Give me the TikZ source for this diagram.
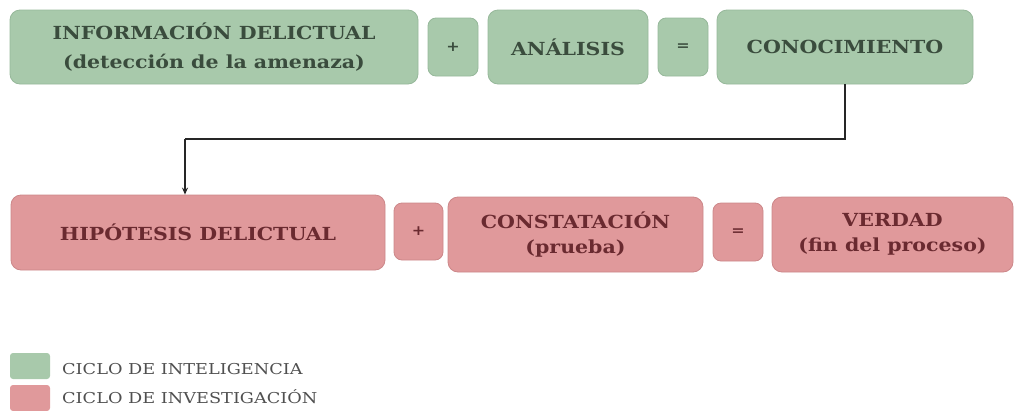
\documentclass[tikz,border=0pt]{standalone}
\usepackage{fontspec}
\setmainfont[FakeStretch=1.14]{DejaVu Serif}
\newfontfamily\legfont[FakeStretch=1.18]{DejaVu Serif}
\usetikzlibrary{arrows.meta}
\definecolor{gfill}{HTML}{A8C9AB}
\definecolor{gdraw}{HTML}{96B89A}
\definecolor{gtext}{HTML}{3A4C3D}
\definecolor{rfill}{HTML}{E0999B}
\definecolor{rdraw}{HTML}{CC8789}
\definecolor{rtext}{HTML}{6A2A30}
\definecolor{ltext}{HTML}{505050}
\begin{document}
\begin{tikzpicture}[x=1pt,y=-1pt,
  gbox/.style={draw=gdraw,line width=0.8pt,fill=gfill,rounded corners=10pt,text=gtext,font=\fontsize{18}{29}\selectfont\bfseries,align=center,inner sep=0pt},
  rbox/.style={draw=rdraw,line width=0.8pt,fill=rfill,rounded corners=10pt,text=rtext,font=\fontsize{18}{25}\selectfont\bfseries,align=center,inner sep=0pt},
  gop/.style={gbox,rounded corners=8pt,font=\fontsize{14}{14}\selectfont\bfseries},
  rop/.style={rbox,rounded corners=8pt,font=\fontsize{14}{14}\selectfont\bfseries},
  legsq/.style={fill=#1,draw=none,rounded corners=3pt},
  legtext/.style={anchor=west,text=ltext,font=\legfont\fontsize{15}{15}\selectfont,inner sep=0pt},
  arr/.style={draw=black!85,line width=2.2pt,-{Stealth[length=7pt,width=6pt]}}]
\useasboundingbox (0,0) rectangle (1017,410);
% top row
\node[gbox,minimum width=408pt,minimum height=74pt] (info) at (214,47) {INFORMACIÓN DELICTUAL\\(detección de la amenaza)};
\node[gop,minimum width=50pt,minimum height=58pt] (plus1) at (453,47) {+};
\node[gbox,minimum width=160pt,minimum height=74pt] (anal) at (568,47) {ANÁLISIS};
\node[gop,minimum width=50pt,minimum height=58pt] (eq1) at (683,47) {=};
\node[gbox,minimum width=256pt,minimum height=74pt] (con) at (845,47) {CONOCIMIENTO};
% bottom row
\node[rbox,minimum width=374pt,minimum height=75pt] (hip) at (198,232.5) {HIPÓTESIS DELICTUAL};
\node[rop,minimum width=49pt,minimum height=57pt] (plus2) at (418.5,231.5) {+};
\node[rbox,minimum width=255pt,minimum height=75pt] (cons) at (575.5,234.5) {CONSTATACIÓN\\(prueba)};
\node[rop,minimum width=50pt,minimum height=58pt] (eq2) at (738,232) {=};
\node[rbox,minimum width=241pt,minimum height=75pt] (ver) at (892.5,234.5) {VERDAD\\(fin del proceso)};
% connector
\coordinate (bend) at (185,139);
\draw[arr,-] (con.south) |- (bend);
\draw[arr] (bend) -- (bend |- hip.north);
% legend
\node[legsq=gfill,minimum width=40pt,minimum height=26pt,inner sep=0pt] (lg) at (30,366) {};
\node[legsq=rfill,minimum width=40pt,minimum height=26pt,inner sep=0pt] (lr) at (30,398) {};
\node[legtext] (lgt) at (62,369) {CICLO DE INTELIGENCIA};
\node[legtext] (lrt) at (62,397) {CICLO DE INVESTIGACIÓN};
\end{tikzpicture}
\end{document}
